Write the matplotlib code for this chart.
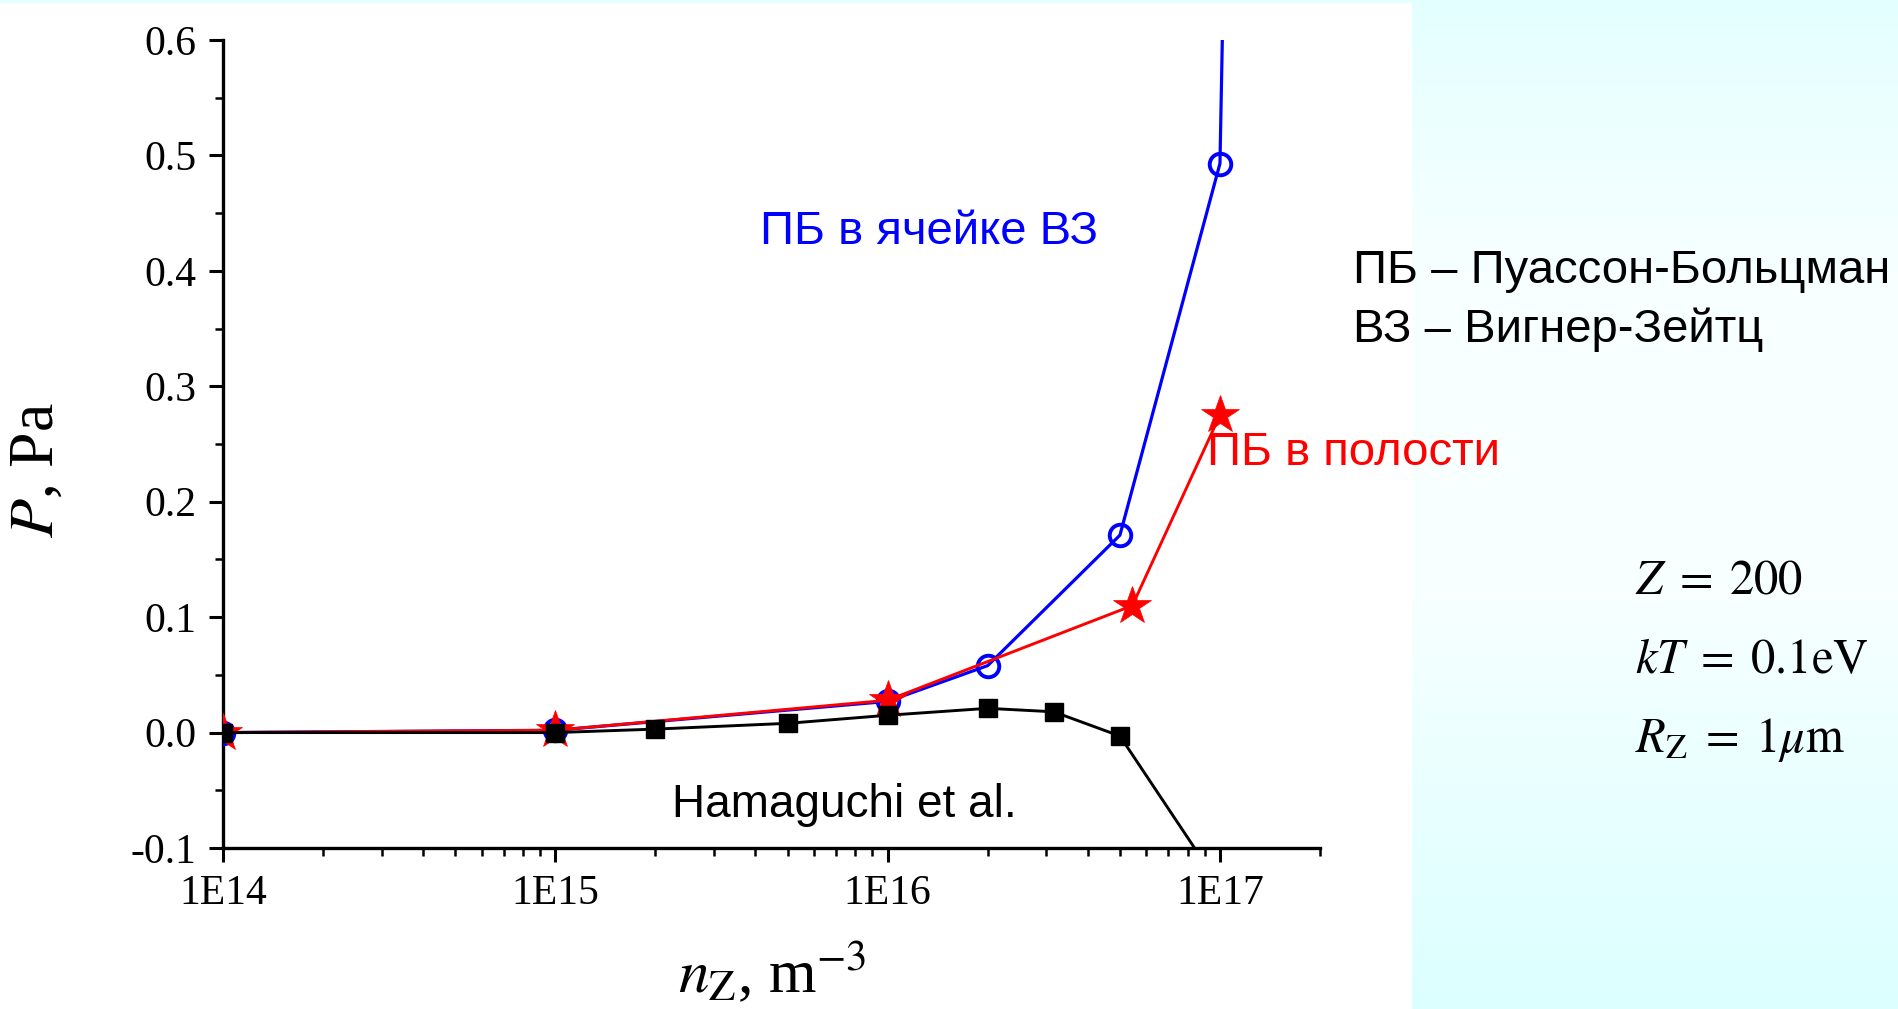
import numpy as np
import matplotlib
matplotlib.use("Agg")
import matplotlib.pyplot as plt
from matplotlib.patches import Rectangle
from matplotlib.ticker import FixedLocator, LogLocator, FuncFormatter, NullFormatter

# ---- data -------------------------------------------------------------
# Poisson-Boltzmann in a Wigner-Seitz cell (last point lies above the frame)
n_cell = [1e14, 1e15, 1e16, 2e16, 5e16, 1e17, 1.04e17]
p_cell = [0.0, 0.002, 0.027, 0.058, 0.171, 0.493, 0.75]
cell_markers = [0, 1, 2, 3, 4, 5]

# Poisson-Boltzmann in a cavity
n_cavity = [1e14, 1e15, 1e16, 5.45e16, 1e17]
p_cavity = [0.0, 0.002, 0.028, 0.110, 0.275]

# Hamaguchi et al. (last point lies below the frame)
n_ham = [1e14, 1e15, 2e15, 5e15, 1e16, 2e16, 3.16e16, 5e16, 1e17]
p_ham = [0.0, 0.0, 0.003, 0.008, 0.015, 0.021, 0.018, -0.003, -0.133]
ham_markers = [0, 1, 2, 3, 4, 5, 6, 7]

x_major = [1e14, 1e15, 1e16, 1e17]
x_major_labels = ["1E14", "1E15", "1E16", "1E17"]
y_major = [-0.1, 0.0, 0.1, 0.2, 0.3, 0.4, 0.5, 0.6]
y_major_labels = ["-0.1", "0.0", "0.1", "0.2", "0.3", "0.4", "0.5", "0.6"]

# ---- style ------------------------------------------------------------
plt.rcParams["font.family"] = ["Liberation Serif", "DejaVu Serif"]
plt.rcParams["mathtext.fontset"] = "stix"

W, H = 1899, 1009
fig = plt.figure(figsize=(W / 100, H / 100), dpi=100)

# slide background: pale cyan with a soft vertical gradient, white plot panel
bg = fig.add_axes([0, 0, 1, 1], zorder=-10)
bg.set_axis_off()
rows = np.arange(H)
stops_y = [0, 300, 600, 750, 1009]
stops_r = [228, 249, 247, 236, 220]
red_ch = np.interp(rows, stops_y, stops_r) / 255.0
grad = np.ones((H, 1, 3))
grad[:, 0, 0] = red_ch
bg.imshow(grad, extent=[0, 1, 0, 1], aspect="auto", origin="upper")
bg.add_patch(Rectangle((0, 0), 1412 / W, 1 - 3 / H, facecolor="white",
                       edgecolor="none", transform=bg.transAxes))
bg.set_xlim(0, 1)
bg.set_ylim(0, 1)

ax = fig.add_axes([223 / W, 1 - 848 / H, (1320 - 223) / W, (848 - 40) / H])
ax.set_facecolor("none")

ax.plot(n_cell, p_cell, color="#0000FF", lw=2.3, marker="o", ms=15.5,
        mfc="none", mec="#0000FF", mew=2.8, markevery=cell_markers, zorder=3)
ax.plot(n_cavity, p_cavity, color="#FF0000", lw=2.1, marker="*", ms=29,
        mfc="#FF0000", mec="#FF0000", mew=0.5, zorder=4)
ax.plot(n_ham, p_ham, color="black", lw=2.1, marker="s", ms=13.5,
        mfc="black", mec="black", mew=1, markevery=ham_markers, zorder=5)

ax.set_xscale("log")
ax.set_xlim(1e14, 2e17)
ax.set_ylim(-0.1, 0.6)

ax.xaxis.set_major_locator(FixedLocator(x_major))
ax.xaxis.set_major_formatter(FuncFormatter(
    lambda v, pos: x_major_labels[x_major.index(v)] if v in x_major else ""))
ax.xaxis.set_minor_locator(LogLocator(base=10, subs=np.arange(2, 10), numticks=20))
ax.xaxis.set_minor_formatter(NullFormatter())

ax.yaxis.set_major_locator(FixedLocator(y_major))
ax.set_yticklabels(y_major_labels)
ax.yaxis.set_minor_locator(FixedLocator(np.arange(-0.05, 0.6, 0.1)))

for side in ("top", "right"):
    ax.spines[side].set_visible(False)
for side in ("left", "bottom"):
    ax.spines[side].set_linewidth(2.4)

ax.tick_params(which="major", direction="out", length=10, width=2.2,
               labelsize=30, pad=9, colors="black")
ax.tick_params(which="minor", direction="out", length=5.5, width=1.8)

# axis titles
fig.text(38 / W, 1 - 470 / H, r"$P$, Pa", rotation=90, ha="center",
         va="center", fontsize=46)
fig.text(772 / W, 1 - 992 / H, r"$n_\mathrm{Z}$, m$^{-3}$", ha="center",
         va="baseline", fontsize=44)

# curve annotations
sans = ["Liberation Sans", "DejaVu Sans"]
fig.text(760 / W, 1 - 244 / H, "ПБ в ячейке ВЗ", color="#0000FF",
         family=sans, fontsize=34, va="baseline", ha="left")
fig.text(1207 / W, 1 - 465 / H, "ПБ в полости", color="#FF0000",
         family=sans, fontsize=34, va="baseline", ha="left")
fig.text(672 / W, 1 - 817 / H, "Hamaguchi et al.", color="black",
         family=sans, fontsize=33, va="baseline", ha="left")
fig.text(1353 / W, 1 - 283 / H, "ПБ – Пуассон-Больцман", color="black",
         family=sans, fontsize=34, va="baseline", ha="left")
fig.text(1353 / W, 1 - 342 / H, "ВЗ – Вигнер-Зейтц", color="black",
         family=sans, fontsize=34, va="baseline", ha="left")

# parameters
fig.text(1635 / W, 1 - 594 / H, r"$Z\;=\;200$", fontsize=35, va="baseline", ha="left")
fig.text(1635 / W, 1 - 673 / H, r"$kT\;=\;0.1\mathrm{eV}$", fontsize=35,
         va="baseline", ha="left")
fig.text(1635 / W, 1 - 752 / H, r"$R_\mathrm{Z}\;=\;1\mu\mathrm{m}$", fontsize=35,
         va="baseline", ha="left")

fig.savefig("out.png", dpi=100)
